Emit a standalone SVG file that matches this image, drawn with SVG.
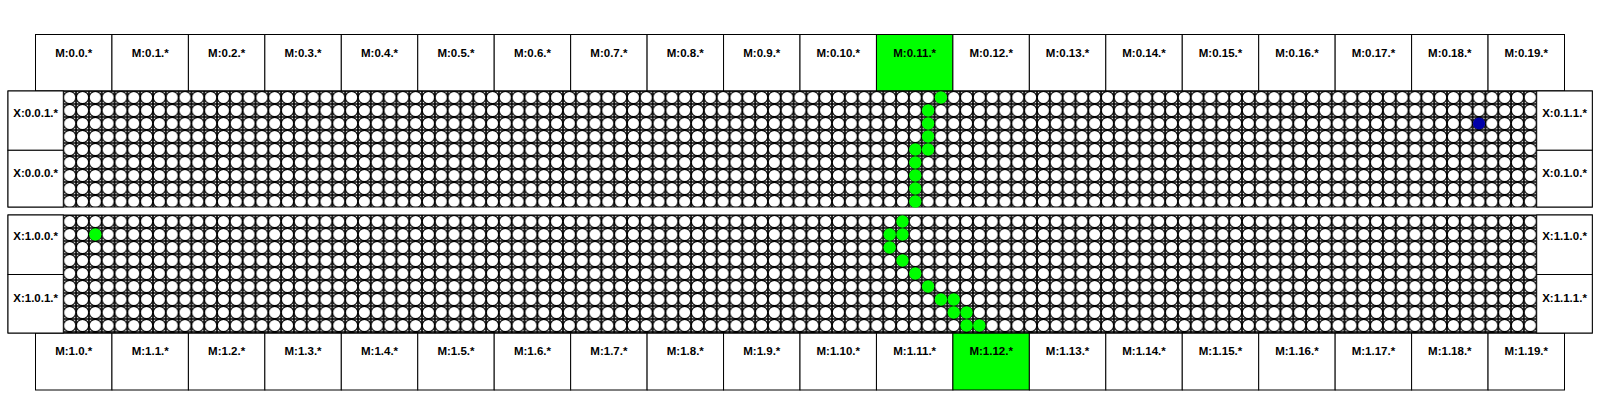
<svg xmlns="http://www.w3.org/2000/svg" width="1600" height="400" viewBox="0 0 1600 400">
<style>
.box{fill:#fff;stroke:#000;stroke-width:1}
.hot{fill:#00ff00;stroke:#000;stroke-width:1}
.lbl{font-family:"Liberation Sans",Arial,sans-serif;font-weight:bold;font-size:11.5px;text-anchor:middle;fill:#000}
.g{fill:#00ff00}
.b{fill:#0000a8}
</style>
<defs>
<pattern id="cells" patternUnits="userSpaceOnUse" x="0" y="0" width="12.812" height="13">
<rect width="12.812" height="13" fill="#fff"/>
<path d="M0,0H12.812V13H0Z" fill="none" stroke="#000" stroke-width="1.7"/>
<circle cx="6.406" cy="6.5" r="6.15" fill="#fff" stroke="#000" stroke-width="1.2"/>
</pattern>
</defs>
<rect width="1600" height="400" fill="#fff"/>

<g id="top-memory">
<g id="M0-0"><rect class="box" x="35.5" y="34.5" width="76.45" height="56.5"/><text class="lbl" x="73.73" y="56.5">M:0.0.*</text></g>
<g id="M0-1"><rect class="box" x="111.95" y="34.5" width="76.45" height="56.5"/><text class="lbl" x="150.18" y="56.5">M:0.1.*</text></g>
<g id="M0-2"><rect class="box" x="188.4" y="34.5" width="76.45" height="56.5"/><text class="lbl" x="226.63" y="56.5">M:0.2.*</text></g>
<g id="M0-3"><rect class="box" x="264.85" y="34.5" width="76.45" height="56.5"/><text class="lbl" x="303.08" y="56.5">M:0.3.*</text></g>
<g id="M0-4"><rect class="box" x="341.3" y="34.5" width="76.45" height="56.5"/><text class="lbl" x="379.53" y="56.5">M:0.4.*</text></g>
<g id="M0-5"><rect class="box" x="417.75" y="34.5" width="76.45" height="56.5"/><text class="lbl" x="455.98" y="56.5">M:0.5.*</text></g>
<g id="M0-6"><rect class="box" x="494.2" y="34.5" width="76.45" height="56.5"/><text class="lbl" x="532.43" y="56.5">M:0.6.*</text></g>
<g id="M0-7"><rect class="box" x="570.65" y="34.5" width="76.45" height="56.5"/><text class="lbl" x="608.88" y="56.5">M:0.7.*</text></g>
<g id="M0-8"><rect class="box" x="647.1" y="34.5" width="76.45" height="56.5"/><text class="lbl" x="685.33" y="56.5">M:0.8.*</text></g>
<g id="M0-9"><rect class="box" x="723.55" y="34.5" width="76.45" height="56.5"/><text class="lbl" x="761.78" y="56.5">M:0.9.*</text></g>
<g id="M0-10"><rect class="box" x="800" y="34.5" width="76.45" height="56.5"/><text class="lbl" x="838.23" y="56.5">M:0.10.*</text></g>
<g id="M0-11"><rect class="hot" x="876.45" y="34.5" width="76.45" height="56.5"/><text class="lbl" x="914.68" y="56.5">M:0.11.*</text></g>
<g id="M0-12"><rect class="box" x="952.9" y="34.5" width="76.45" height="56.5"/><text class="lbl" x="991.13" y="56.5">M:0.12.*</text></g>
<g id="M0-13"><rect class="box" x="1029.35" y="34.5" width="76.45" height="56.5"/><text class="lbl" x="1067.58" y="56.5">M:0.13.*</text></g>
<g id="M0-14"><rect class="box" x="1105.8" y="34.5" width="76.45" height="56.5"/><text class="lbl" x="1144.03" y="56.5">M:0.14.*</text></g>
<g id="M0-15"><rect class="box" x="1182.25" y="34.5" width="76.45" height="56.5"/><text class="lbl" x="1220.48" y="56.5">M:0.15.*</text></g>
<g id="M0-16"><rect class="box" x="1258.7" y="34.5" width="76.45" height="56.5"/><text class="lbl" x="1296.93" y="56.5">M:0.16.*</text></g>
<g id="M0-17"><rect class="box" x="1335.15" y="34.5" width="76.45" height="56.5"/><text class="lbl" x="1373.38" y="56.5">M:0.17.*</text></g>
<g id="M0-18"><rect class="box" x="1411.6" y="34.5" width="76.45" height="56.5"/><text class="lbl" x="1449.83" y="56.5">M:0.18.*</text></g>
<g id="M0-19"><rect class="box" x="1488.05" y="34.5" width="76.45" height="56.5"/><text class="lbl" x="1526.28" y="56.5">M:0.19.*</text></g>
</g>

<g id="bottom-memory">
<g id="M1-0"><rect class="box" x="35.5" y="333" width="76.45" height="57"/><text class="lbl" x="73.73" y="354.5">M:1.0.*</text></g>
<g id="M1-1"><rect class="box" x="111.95" y="333" width="76.45" height="57"/><text class="lbl" x="150.18" y="354.5">M:1.1.*</text></g>
<g id="M1-2"><rect class="box" x="188.4" y="333" width="76.45" height="57"/><text class="lbl" x="226.63" y="354.5">M:1.2.*</text></g>
<g id="M1-3"><rect class="box" x="264.85" y="333" width="76.45" height="57"/><text class="lbl" x="303.08" y="354.5">M:1.3.*</text></g>
<g id="M1-4"><rect class="box" x="341.3" y="333" width="76.45" height="57"/><text class="lbl" x="379.53" y="354.5">M:1.4.*</text></g>
<g id="M1-5"><rect class="box" x="417.75" y="333" width="76.45" height="57"/><text class="lbl" x="455.98" y="354.5">M:1.5.*</text></g>
<g id="M1-6"><rect class="box" x="494.2" y="333" width="76.45" height="57"/><text class="lbl" x="532.43" y="354.5">M:1.6.*</text></g>
<g id="M1-7"><rect class="box" x="570.65" y="333" width="76.45" height="57"/><text class="lbl" x="608.88" y="354.5">M:1.7.*</text></g>
<g id="M1-8"><rect class="box" x="647.1" y="333" width="76.45" height="57"/><text class="lbl" x="685.33" y="354.5">M:1.8.*</text></g>
<g id="M1-9"><rect class="box" x="723.55" y="333" width="76.45" height="57"/><text class="lbl" x="761.78" y="354.5">M:1.9.*</text></g>
<g id="M1-10"><rect class="box" x="800" y="333" width="76.45" height="57"/><text class="lbl" x="838.23" y="354.5">M:1.10.*</text></g>
<g id="M1-11"><rect class="box" x="876.45" y="333" width="76.45" height="57"/><text class="lbl" x="914.68" y="354.5">M:1.11.*</text></g>
<g id="M1-12"><rect class="hot" x="952.9" y="333" width="76.45" height="57"/><text class="lbl" x="991.13" y="354.5">M:1.12.*</text></g>
<g id="M1-13"><rect class="box" x="1029.35" y="333" width="76.45" height="57"/><text class="lbl" x="1067.58" y="354.5">M:1.13.*</text></g>
<g id="M1-14"><rect class="box" x="1105.8" y="333" width="76.45" height="57"/><text class="lbl" x="1144.03" y="354.5">M:1.14.*</text></g>
<g id="M1-15"><rect class="box" x="1182.25" y="333" width="76.45" height="57"/><text class="lbl" x="1220.48" y="354.5">M:1.15.*</text></g>
<g id="M1-16"><rect class="box" x="1258.7" y="333" width="76.45" height="57"/><text class="lbl" x="1296.93" y="354.5">M:1.16.*</text></g>
<g id="M1-17"><rect class="box" x="1335.15" y="333" width="76.45" height="57"/><text class="lbl" x="1373.38" y="354.5">M:1.17.*</text></g>
<g id="M1-18"><rect class="box" x="1411.6" y="333" width="76.45" height="57"/><text class="lbl" x="1449.83" y="354.5">M:1.18.*</text></g>
<g id="M1-19"><rect class="box" x="1488.05" y="333" width="76.45" height="57"/><text class="lbl" x="1526.28" y="354.5">M:1.19.*</text></g>
</g>

<g id="mesh-0">
<g transform="translate(63.3,91)"><rect x="0" y="0" width="1473.4" height="116" fill="url(#cells)"/></g>
<rect x="8" y="91" width="1584.3" height="116" fill="none" stroke="#000" stroke-width="1"/>
<g id="X0-0-1"><rect class="box" x="8" y="91" width="55.3" height="59.3"/><text class="lbl" x="35.65" y="117">X:0.0.1.*</text></g>
<g id="X0-0-0"><rect class="box" x="8" y="150.3" width="55.3" height="56.7"/><text class="lbl" x="35.65" y="176.5">X:0.0.0.*</text></g>
<g id="X0-1-1"><rect class="box" x="1536.7" y="91" width="55.6" height="59.3"/><text class="lbl" x="1564.5" y="117">X:0.1.1.*</text></g>
<g id="X0-1-0"><rect class="box" x="1536.7" y="150.3" width="55.6" height="56.7"/><text class="lbl" x="1564.5" y="176.5">X:0.1.0.*</text></g>
</g>

<g id="mesh-1">
<g transform="translate(63.3,215)"><rect x="0" y="0" width="1473.4" height="118" fill="url(#cells)"/></g>
<rect x="8" y="215" width="1584.3" height="118" fill="none" stroke="#000" stroke-width="1"/>
<g id="X1-0-0"><rect class="box" x="8" y="215" width="55.3" height="59.5"/><text class="lbl" x="35.65" y="240">X:1.0.0.*</text></g>
<g id="X1-0-1"><rect class="box" x="8" y="274.5" width="55.3" height="58.5"/><text class="lbl" x="35.65" y="302">X:1.0.1.*</text></g>
<g id="X1-1-0"><rect class="box" x="1536.7" y="215" width="55.6" height="59.5"/><text class="lbl" x="1564.5" y="240">X:1.1.0.*</text></g>
<g id="X1-1-1"><rect class="box" x="1536.7" y="274.5" width="55.6" height="58.5"/><text class="lbl" x="1564.5" y="302">X:1.1.1.*</text></g>
</g>

<g id="path-0">
<circle class="g" cx="940.92" cy="97.5" r="6.2"/>
<circle class="g" cx="928.11" cy="110.5" r="6.2"/>
<circle class="g" cx="928.11" cy="123.5" r="6.2"/>
<circle class="g" cx="928.11" cy="136.5" r="6.2"/>
<circle class="g" cx="915.29" cy="149.5" r="6.2"/>
<circle class="g" cx="928.11" cy="149.5" r="6.2"/>
<circle class="g" cx="915.29" cy="162.5" r="6.2"/>
<circle class="g" cx="915.29" cy="175.5" r="6.2"/>
<circle class="g" cx="915.29" cy="188.5" r="6.2"/>
<circle class="g" cx="915.29" cy="201.5" r="6.2"/>
</g>
<g id="path-1">
<circle class="g" cx="95.33" cy="234.5" r="6.2"/>
<circle class="g" cx="902.48" cy="221.5" r="6.2"/>
<circle class="g" cx="889.67" cy="234.5" r="6.2"/>
<circle class="g" cx="902.48" cy="234.5" r="6.2"/>
<circle class="g" cx="889.67" cy="247.5" r="6.2"/>
<circle class="g" cx="902.48" cy="260.5" r="6.2"/>
<circle class="g" cx="915.29" cy="273.5" r="6.2"/>
<circle class="g" cx="928.11" cy="286.5" r="6.2"/>
<circle class="g" cx="940.92" cy="299.5" r="6.2"/>
<circle class="g" cx="953.73" cy="299.5" r="6.2"/>
<circle class="g" cx="953.73" cy="312.5" r="6.2"/>
<circle class="g" cx="966.54" cy="312.5" r="6.2"/>
<circle class="g" cx="966.54" cy="325.5" r="6.2"/>
<circle class="g" cx="979.35" cy="325.5" r="6.2"/>
</g>
<g id="marker-blue">
<circle class="b" cx="1479.03" cy="123.5" r="6.1"/>
</g>
</svg>
